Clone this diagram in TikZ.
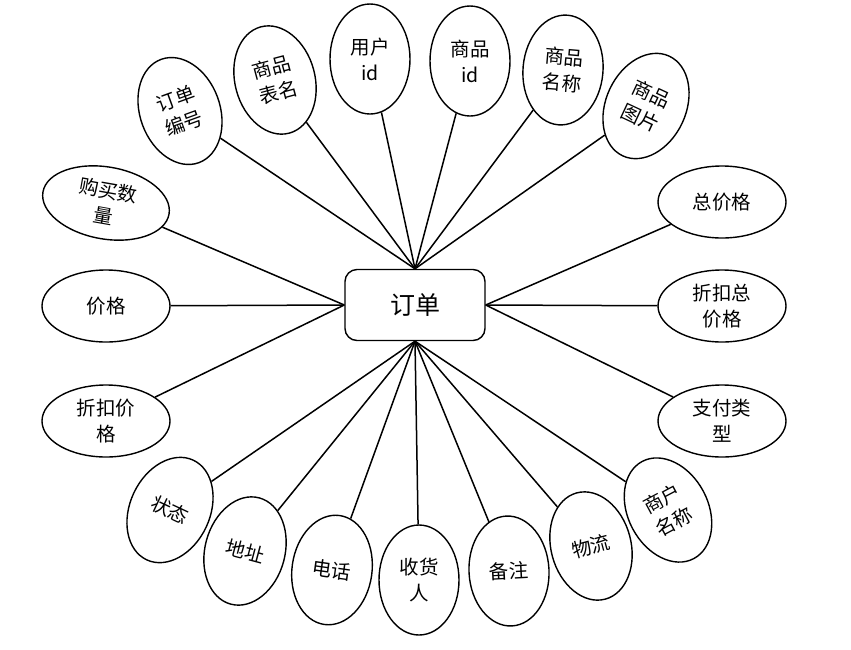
\documentclass[tikz,border=0pt]{standalone}
\usepackage{fontspec}
\newfontfamily\cjk{Noto Sans CJK SC}
\usetikzlibrary{shapes.geometric}
\tikzset{
  attr/.style={draw, ellipse, line width=1.4pt, inner sep=0pt, align=center,
    font=\cjk\fontsize{19.5}{26}\selectfont},
  vattr/.style={attr, minimum width=80pt, minimum height=110pt},
  hattr/.style={attr, minimum width=128pt, minimum height=72pt},
  centre/.style={draw, rounded corners=12pt, minimum width=140pt, minimum height=71pt,
    line width=1.4pt, font=\cjk\fontsize{25}{30}\selectfont},
  link/.style={line width=1.5pt}
}
\begin{document}
\begin{tikzpicture}[x=1pt,y=-1pt]
\useasboundingbox (0,0) rectangle (851,649);
\node[centre] (c) at (415,305) {订单};
% top
\node[vattr, rotate=20]  (e1) at (180,111) {订单\\编号};
\node[vattr, rotate=15]  (e2) at (275,80)  {商品\\表名};
\node[vattr]             (e3) at (370,59)  {用户\\id};
\node[vattr]             (e4) at (470,61)  {商品\\id};
\node[vattr, rotate=-5]  (e5) at (563,70)  {商品\\名称};
\node[vattr, rotate=-25] (e6) at (646,106) {商品\\图片};
% left
\node[hattr, rotate=-10] (e7) at (106,203) {购买数\\量};
\node[hattr]             (e8) at (106,306) {价格};
\node[hattr]             (e9) at (106,421) {折扣价\\格};
% right
\node[hattr] (e10) at (722,202) {总价格};
\node[hattr] (e11) at (722,306) {折扣总\\价格};
\node[hattr] (e12) at (722,421) {支付类\\型};
% bottom
\node[vattr, rotate=-25] (e13) at (170,510) {状态};
\node[vattr, rotate=-15] (e14) at (245,551) {地址};
\node[vattr, rotate=-8]  (e15) at (332,570) {电话};
\node[vattr]             (e16) at (419,580) {收货\\人};
\node[vattr, rotate=3]   (e17) at (509,571) {备注};
\node[vattr, rotate=15]  (e18) at (591,546) {物流};
\node[vattr, rotate=28]  (e19) at (668,510) {商户\\名称};
% links
\foreach \e in {e1,e2,e3,e4,e5,e6} \draw[link] (\e) -- (c.north);
\foreach \e in {e7,e8,e9} \draw[link] (\e) -- (c.west);
\foreach \e in {e10,e11,e12} \draw[link] (\e) -- (c.east);
\foreach \e in {e13,e14,e15,e16,e17,e18,e19} \draw[link] (\e) -- (c.south);
\end{tikzpicture}
\end{document}
